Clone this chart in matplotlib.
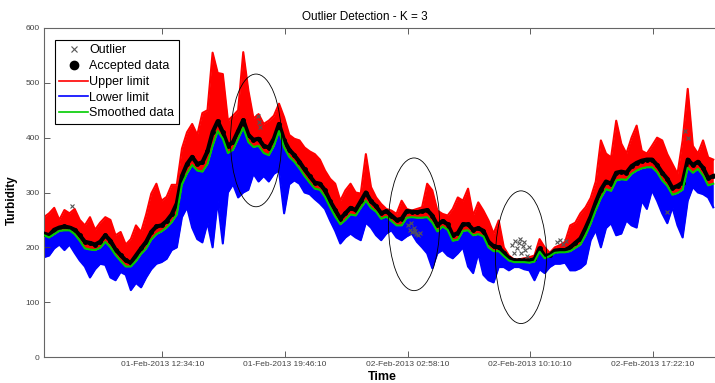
import numpy as np
import pandas as pd
import matplotlib
matplotlib.use('Agg')
import matplotlib.pyplot as plt
import matplotlib.dates as mdates
from matplotlib.patches import Ellipse

plt.rcParams['font.family'] = ['Liberation Sans', 'DejaVu Sans']

## data, one sample every 18 minutes from 01-Feb 05:37:20
start = pd.Timestamp('2013-02-01 05:37:20')
step_min = 18

smoothed = [222, 218, 224, 230, 231, 231, 224, 212, 198, 196, 195, 199, 210, 200, 186, 175,
            165, 165, 175, 188, 198, 214, 224, 229, 236, 246, 260, 315, 335, 350, 340, 338,
            352, 385, 412, 398, 372, 378, 398, 418, 392, 383, 385, 372, 368, 385, 412, 382,
            365, 356, 344, 330, 318, 307, 305, 292, 273, 256, 242, 250, 260, 258, 272, 285,
            272, 265, 252, 256, 248, 240, 240, 254, 255, 254, 254, 255, 245, 229, 238, 232,
            212, 214, 230, 231, 222, 224, 220, 200, 193, 193, 184, 176, 173, 173, 173, 172,
            174, 192, 180, 184, 190, 191, 191, 193, 199, 205, 222, 243, 268, 290, 306, 303,
            322, 324, 323, 334, 340, 344, 346, 346, 337, 322, 312, 296, 299, 305, 345, 336,
            343, 331, 313, 316]

upper = [255, 262, 272, 250, 268, 262, 270, 250, 240, 255, 232, 245, 255, 250, 222, 228,
         205, 215, 240, 228, 260, 298, 316, 285, 292, 314, 314, 380, 410, 425, 405, 445,
         450, 555, 518, 516, 431, 440, 450, 556, 486, 435, 443, 425, 431, 440, 462, 437,
         405, 398, 395, 382, 375, 370, 360, 340, 325, 316, 285, 304, 316, 300, 298, 370,
         310, 291, 279, 270, 267, 261, 285, 270, 267, 270, 273, 316, 304, 267, 261, 258,
         270, 291, 285, 307, 258, 282, 267, 249, 225, 249, 200, 185, 178, 178, 180, 182,
         185, 215, 200, 190, 200, 204, 210, 240, 245, 262, 273, 290, 320, 395, 371, 364,
         431, 389, 371, 400, 422, 376, 371, 385, 400, 395, 370, 352, 334, 395, 489, 385,
         371, 395, 364, 360]

lower = [182, 185, 198, 205, 195, 205, 190, 176, 165, 145, 160, 170, 168, 145, 140, 155,
         150, 122, 135, 127, 145, 160, 170, 173, 179, 195, 200, 255, 273, 236, 215, 209,
         245, 200, 285, 207, 300, 315, 291, 300, 305, 334, 320, 330, 320, 334, 340, 262,
         315, 322, 316, 300, 297, 288, 280, 270, 249, 230, 207, 218, 225, 218, 213, 245,
         236, 222, 213, 225, 231, 218, 213, 220, 225, 210, 200, 189, 162, 189, 195, 185,
         180, 189, 200, 165, 153, 189, 150, 140, 136, 164, 164, 158, 164, 164, 160, 158,
         140, 160, 153, 164, 170, 170, 172, 158, 158, 162, 170, 213, 231, 200, 235, 244,
         222, 225, 249, 240, 236, 285, 270, 304, 285, 262, 244, 273, 240, 218, 285, 310,
         300, 297, 291, 273]

accepted = [225, 222, 232, 236, 238, 236, 232, 222, 210, 208, 205, 210, 222, 212, 196, 186,
            176, 172, 185, 198, 210, 228, 238, 240, 248, 260, 280, 330, 352, 365, 352, 355,
            375, 410, 430, 410, 385, 392, 412, 432, 405, 396, 398, 385, 382, 398, 425, 395,
            378, 368, 356, 342, 330, 318, 316, 304, 284, 268, 252, 262, 272, 268, 284, 300,
            284, 275, 262, 266, 258, 250, 252, 266, 265, 264, 266, 268, 258, 240, 248, 242,
            222, 226, 242, 242, 232, 235, 230, 210, 202, 200, 190, 180, 176, 176, 176, 176,
            178, 198, 184, 186, 194, 195, 195, 200, 208, 216, 235, 256, 282, 305, 320, 316,
            336, 338, 336, 348, 354, 358, 360, 360, 350, 336, 325, 308, 312, 318, 360, 350,
            356, 345, 326, 330]

# outliers: hours after start, turbidity
out_hours = [1.64, 12.57, 12.62, 12.68,
             21.37, 21.49, 21.55, 21.61, 21.73, 21.79, 21.84, 21.96, 22.08,
             27.48, 27.60, 27.66, 27.77, 27.89, 27.95, 28.01, 28.13, 28.19, 28.24, 28.36, 28.48,
             30.12, 30.30, 30.48, 30.65, 36.59, 37.64, 37.82]
out_vals = [276, 440, 428, 420,
            240, 232, 244, 228, 236, 230, 225, 222, 226,
            205, 190, 212, 198, 208, 215, 190, 202, 210, 195, 185, 200,
            210, 214, 206, 212, 264, 413, 400]

# circled regions: centre hour, centre value, width (h), height
circ_hours = [12.45, 21.73, 28.01]
circ_vals = [395, 242, 182]
circ_w = 3.0
circ_h = 242

tick_start = pd.Timestamp('2013-02-01 12:34:10')
tick_step = pd.Timedelta(hours=7, minutes=12)

##
## plot
t = start + pd.to_timedelta(np.arange(len(smoothed)) * step_min, unit='min')
t_out = start + pd.to_timedelta(out_hours, unit='h')

fig = plt.figure(figsize=(7.15, 3.83), dpi=100)
ax = fig.add_axes([44/715, 1-357/383, 678/715, 329/383])

ax.fill_between(t, smoothed, lower, color='#0000ff', lw=0, zorder=1)
ax.plot(t, lower, color='#0000ff', lw=1.5, zorder=1)
ax.fill_between(t, smoothed, upper, color='#ff0000', lw=0, zorder=2)
ax.plot(t, upper, color='#ff0000', lw=1.5, zorder=2)
ax.plot(t, accepted, color='black', lw=3, zorder=3)
ax.plot(t, accepted, 'o', color='black', ms=2.5, zorder=3)
ax.plot(t_out, out_vals, 'x', color='#555555', ms=3, mew=0.8, zorder=4)
ax.plot(t, smoothed, color='#00cc00', lw=1.5, zorder=5)

for h, v in zip(circ_hours, circ_vals):
    c = mdates.date2num(start + pd.Timedelta(hours=h))
    ax.add_patch(Ellipse((c, v), circ_w/24, circ_h, fill=False, ec='black', lw=0.6, zorder=6))

# legend handles
h1, = ax.plot([], [], 'x', color='#555555', ms=4, mew=0.8, label='Outlier')
h2, = ax.plot([], [], 'o', color='black', ms=6, label='Accepted data')
h3, = ax.plot([], [], color='#ff0000', lw=1.2, label='Upper limit')
h4, = ax.plot([], [], color='#0000ff', lw=1.2, label='Lower limit')
h5, = ax.plot([], [], color='#00cc00', lw=1.2, label='Smoothed data')
leg = ax.legend(handles=[h1, h2, h3, h4, h5], loc='upper left',
                bbox_to_anchor=(11/678, 317/329), fontsize=9, frameon=True,
                fancybox=False, framealpha=1, edgecolor='black', borderpad=0.35,
                labelspacing=0.3, handlelength=2.3, handletextpad=0.1, borderaxespad=0)
leg.get_frame().set_linewidth(0.8)

ax.set_ylim(0, 600)
ax.set_yticks(range(0, 601, 100))
ax.set_xlim(start, start + pd.Timedelta(hours=678/17.03))
ax.set_xticks([tick_start + k*tick_step for k in range(5)])
ax.xaxis.set_major_formatter(mdates.DateFormatter('%d-%b-%Y %H:%M:%S'))
ax.tick_params(direction='in', length=4, width=0.6, colors='#444444', labelsize=6,
               top=True, pad=3)
for s in ax.spines.values():
    s.set_color('#666666')
    s.set_linewidth(0.8)

fig.text(365/715, 1-17/383, 'Outlier Detection - K = 3', ha='center', va='center', fontsize=8.5)
fig.text(382/715, 1-377/383, 'Time', ha='center', va='center', fontsize=9, fontweight='bold')
fig.text(12/715, 1-200/383, 'Turbidity', ha='center', va='center', rotation=90,
         fontsize=8.5, fontweight='bold')

fig.savefig('out.png', dpi=100)
